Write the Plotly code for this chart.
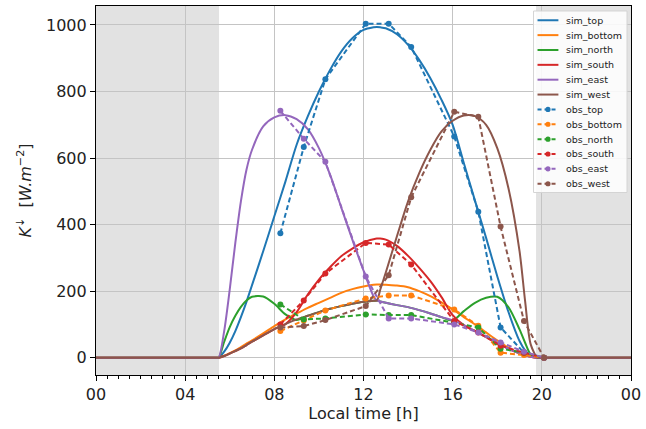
import plotly.graph_objects as go

# ---- simulated series (hours, W/m2) ----
t_sim = [0, 5.4, 5.5, 5.75, 6.0, 6.25, 6.5, 6.75, 7.0, 7.5, 8.0, 8.5, 9.0, 9.5, 10.0, 10.5,
         11.0, 11.5, 12.0, 12.45, 12.6, 12.75, 13.0, 13.5, 14.0, 14.5, 15.0, 15.5, 16.0, 16.5,
         17.0, 17.5, 18.0, 18.5, 19.0, 19.25, 19.5, 19.8, 19.9, 24]
sim_top = [0, 0, 0, 18, 45, 80, 122, 168, 218, 320, 425, 530, 640, 725, 800, 865,
           920, 960, 985, 993, 994, 993, 990, 972, 940, 895, 840, 775, 700, 585,
           472, 360, 245, 138, 50, 22, 6, 0, 0, 0]
sim_bottom = [0, 0, 0, 6, 14, 22, 32, 42, 52, 73, 95, 115, 133, 150, 165, 180,
              195, 206, 214, 219, 220, 220, 219, 217, 212, 200, 185, 166, 145, 122,
              100, 76, 52, 30, 13, 7, 3, 0, 0, 0]
sim_north = [0, 0, 0, 48, 92, 126, 153, 172, 183, 184, 162, 130, 113, 126, 137, 147,
             155, 162, 168, 171, 172, 169, 165, 158, 152, 143, 133, 122, 112, 140,
             165, 180, 183, 152, 85, 45, 10, 0, 0, 0]
sim_south = [0, 0, 0, 5, 12, 20, 28, 38, 48, 67, 86, 101, 137, 190, 235, 272,
             305, 328, 347, 356, 358, 358, 355, 336, 306, 270, 230, 182, 128, 98,
             80, 62, 44, 27, 13, 7, 3, 0, 0, 0]
sim_east = [0, 0, 0, 80, 205, 345, 470, 565, 625, 695, 722, 729, 717, 687, 630, 550,
            452, 355, 262, 185, 172, 169, 165, 158, 152, 143, 133, 122, 112, 98,
            80, 62, 44, 27, 13, 7, 3, 0, 0, 0]
sim_west = [0, 0, 0, 5, 12, 20, 28, 38, 48, 67, 86, 101, 115, 126, 137, 147,
            155, 162, 168, 171, 172, 204, 256, 365, 470, 555, 625, 680, 712, 728,
            726, 700, 630, 510, 320, 170, 40, 0, 0, 0]

# ---- observed series ----
t_obs = [8.27, 9.32, 10.29, 12.1, 13.13, 14.14, 16.07, 17.15, 18.15, 19.2, 20.1]
obs_top = [374, 633, 837, 1004, 1004, 934, 665, 439, 91, 15, 0]
obs_bottom = [80, 112, 142, 178, 187, 187, 145, 96, 15, 8, 0]
obs_north = [160, 115, 118, 130, 128, 128, 105, 91, 27, 15, 0]
obs_south = [100, 172, 253, 345, 340, 280, 110, 76, 36, 15, 0]
obs_east = [742, 658, 589, 244, 118, 118, 100, 76, 46, 18, 0]
obs_west = [91, 95, 113, 155, 248, 482, 739, 724, 394, 110, 0]

sunrise, sunset = 5.52, 19.74
x_tickvals = [0, 4, 8, 12, 16, 20, 24]
x_ticktext = ["00", "04", "08", "12", "16", "20", "00"]
y_tickvals = [0, 200, 400, 600, 800, 1000]

colors = ["#1f77b4", "#ff7f0e", "#2ca02c", "#d62728", "#9467bd", "#8c564b"]
names = ["top", "bottom", "north", "south", "east", "west"]
sims = [sim_top, sim_bottom, sim_north, sim_south, sim_east, sim_west]
obss = [obs_top, obs_bottom, obs_north, obs_south, obs_east, obs_west]

DASH = "5px,3px"
fig = go.Figure()
for n, s, c in zip(names, sims, colors):
    fig.add_trace(go.Scatter(x=t_sim, y=s, mode="lines", name="sim_" + n,
                             line=dict(color=c, width=2, shape="spline", smoothing=0.8)))
for n, o, c in zip(names, obss, colors):
    fig.add_trace(go.Scatter(x=t_obs, y=o, mode="lines+markers", name="obs_" + n,
                             line=dict(color=c, width=2, dash=DASH),
                             marker=dict(color=c, size=6)))

for x0, x1 in [(0, sunrise), (sunset, 24)]:
    fig.add_shape(type="rect", xref="x", yref="paper", x0=x0, x1=x1, y0=0, y1=1,
                  fillcolor="#e2e2e2", line=dict(width=0), layer="below")

# ---- legend drawn in paper coordinates (compact, like the reference) ----
L, R, T, B = 96, 634, 5, 375
def px(x):
    return (x - L) / (R - L)
def py(y):
    return (B - y) / (B - T)

fig.add_shape(type="rect", xref="paper", yref="paper",
              x0=px(536), x1=px(630), y0=py(192), y1=py(10),
              fillcolor="rgba(255,255,255,0.85)", line=dict(color="#d4d4d4", width=1),
              layer="above")
entries = [("sim_" + n, c, False) for n, c in zip(names, colors)] + \
          [("obs_" + n, c, True) for n, c in zip(names, colors)]
for i, (label, c, is_obs) in enumerate(entries):
    yy = 19.3 + 14.9 * i
    fig.add_shape(type="line", xref="paper", yref="paper",
                  x0=px(540), x1=px(561), y0=py(yy), y1=py(yy),
                  line=dict(color=c, width=2, dash="4px,3px" if is_obs else "solid"),
                  layer="above")
    if is_obs:
        r = 2.6
        fig.add_shape(type="circle", xref="paper", yref="paper",
                      x0=px(550.5 - r), x1=px(550.5 + r), y0=py(yy + r), y1=py(yy - r),
                      fillcolor=c, line=dict(color=c, width=0), layer="above")
    fig.add_annotation(xref="paper", yref="paper", x=px(567), y=py(yy),
                       xanchor="left", yanchor="middle", showarrow=False,
                       text=label, font=dict(size=9.5, color="#222"))

font = "DejaVu Sans, sans-serif"
fig.update_layout(
    width=646, height=429,
    margin=dict(l=L, r=646 - R, t=T, b=429 - B),
    paper_bgcolor="white", plot_bgcolor="white",
    font=dict(family=font, size=16, color="#222"),
    showlegend=False,
)
fig.update_xaxes(range=[0, 24], tickvals=x_tickvals, ticktext=x_ticktext,
                 showline=True, linecolor="black", linewidth=1.2, mirror=True,
                 ticks="outside", ticklen=5, tickcolor="black",
                 showgrid=True, gridcolor="#c4c4c4", gridwidth=1.3, zeroline=False,
                 minor=dict(dtick=0.5, tick0=0, ticks="outside", ticklen=2.5, tickcolor="black", showgrid=False),
                 title=dict(text="Local time [h]", font=dict(size=16), standoff=4),
                 tickfont=dict(size=16))
fig.update_yaxes(range=[-52, 1057], tickvals=y_tickvals,
                 showline=True, linecolor="black", linewidth=1.2, mirror=True,
                 ticks="outside", ticklen=5, tickcolor="black",
                 showgrid=True, gridcolor="#c4c4c4", gridwidth=1.3, zeroline=False,
                 title=dict(text="<i>K</i><sup>↓</sup>  [<i>W.m</i><sup>−2</sup>]", font=dict(size=16), standoff=10),
                 tickfont=dict(size=16))

fig.write_html("out.html")
